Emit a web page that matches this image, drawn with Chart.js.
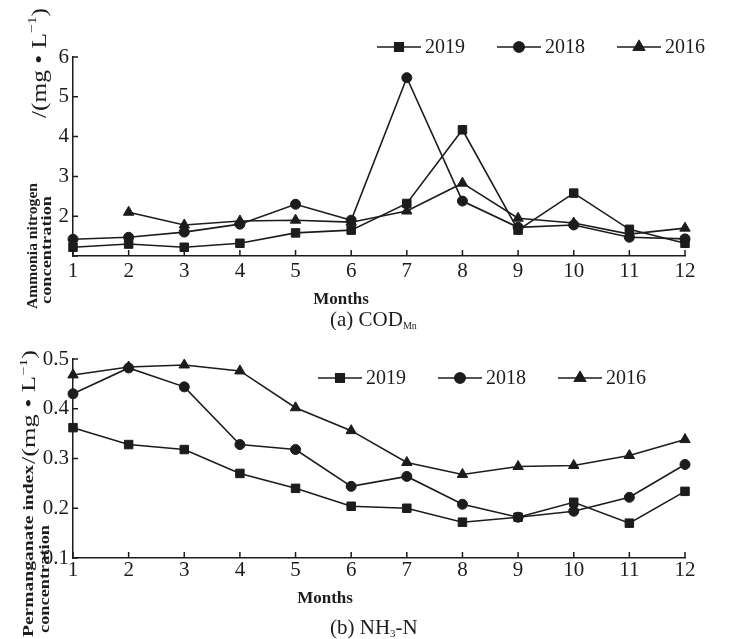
<!DOCTYPE html>
<html>
<head>
<meta charset="utf-8">
<script src="https://cdn.jsdelivr.net/npm/chart.js@4.4.1/dist/chart.umd.min.js"></script>
<style>
  html, body { margin: 0; padding: 0; background: #fff; }
  #wrap { position: relative; width: 735px; height: 639px; overflow: hidden; }
  #chartA { position: absolute; left: 0; top: 0; }
  #chartB { position: absolute; left: 0; top: 330px; }
</style>
</head>
<body>
<div id="wrap">
  <canvas id="chartA" width="735" height="330" style="width:735px;height:330px"></canvas>
  <canvas id="chartB" width="735" height="309" style="width:735px;height:309px"></canvas>
</div>
<script>
// x categories
const months = ['1', '2', '3', '4', '5', '6', '7', '8', '9', '10', '11', '12'];
const years = ['2019', '2018', '2016'];

// (a) COD_Mn panel
const codMn2019 = [1.22, 1.30, 1.22, 1.32, 1.58, 1.65, 2.32, 4.17, 1.65, 2.58, 1.67, 1.32];
const codMn2018 = [1.42, 1.47, 1.60, 1.80, 2.30, 1.90, 5.48, 2.38, 1.72, 1.78, 1.47, 1.43];
const codMn2016 = [null, 2.10, 1.78, 1.88, 1.90, 1.85, 2.13, 2.83, 1.95, 1.83, 1.55, 1.70];
const codMnTicks = [1, 2, 3, 4, 5, 6];

// (b) NH3-N panel
const nh3n2019 = [0.362, 0.328, 0.318, 0.270, 0.240, 0.204, 0.200, 0.172, 0.182, 0.212, 0.170, 0.234];
const nh3n2018 = [0.430, 0.482, 0.444, 0.328, 0.318, 0.244, 0.264, 0.208, 0.182, 0.194, 0.222, 0.288];
const nh3n2016 = [0.468, 0.484, 0.488, 0.476, 0.402, 0.356, 0.292, 0.268, 0.284, 0.286, 0.306, 0.338];
const nh3nTicks = [0.1, 0.2, 0.3, 0.4, 0.5];

const serif = "'Liberation Serif', 'DejaVu Serif', serif";
const ink = '#1c1c1c';
const markers = ['rect', 'circle', 'triangle'];
const markerSize = [6, 5, 6];

// rotated text squeezed/stretched to fit between yStart (bottom) and yEnd (top)
function drawUpText(ctx, parts, cx, yStart, yEnd) {
  ctx.save();
  ctx.translate(cx, yStart);
  ctx.rotate(-Math.PI / 2);
  let total = 0;
  parts.forEach(p => { ctx.font = p.font; p.w = ctx.measureText(p.t).width; total += p.w; });
  ctx.scale((yStart - yEnd) / total, 1);
  ctx.textAlign = 'left';
  ctx.textBaseline = 'middle';
  ctx.fillStyle = ink;
  let x = 0;
  parts.forEach(p => {
    ctx.font = p.font;
    ctx.fillText(p.t, x, p.rise || 0);
    x += p.w;
  });
  ctx.restore();
}

function drawRun(ctx, parts, x, y) {
  ctx.save();
  ctx.textAlign = 'left';
  ctx.textBaseline = 'middle';
  ctx.fillStyle = ink;
  parts.forEach(p => {
    ctx.font = p.font;
    ctx.fillText(p.t, x, y + (p.rise || 0));
    x += ctx.measureText(p.t).width;
  });
  ctx.restore();
}

const decor = {
  id: 'decor',
  afterDraw(chart, args, o) {
    const { ctx, chartArea: area, scales: { x, y } } = chart;
    ctx.save();
    // inward tick marks
    ctx.strokeStyle = ink;
    ctx.lineWidth = 1.5;
    ctx.beginPath();
    y.ticks.forEach(t => {
      const py = y.getPixelForValue(t.value);
      ctx.moveTo(area.left, py);
      ctx.lineTo(area.left + 5, py);
    });
    months.forEach((m, i) => {
      const px = x.getPixelForValue(i);
      ctx.moveTo(px, area.bottom);
      ctx.lineTo(px, area.bottom - 6);
    });
    ctx.stroke();

    // legend: line with marker, then the year
    chart.data.datasets.forEach((ds, i) => {
      const x0 = o.legendX + i * 120;
      ctx.strokeStyle = ink;
      ctx.lineWidth = 1.6;
      ctx.beginPath();
      ctx.moveTo(x0, o.legendY);
      ctx.lineTo(x0 + 44, o.legendY);
      ctx.stroke();
      ctx.fillStyle = ink;
      Chart.helpers.drawPoint(ctx, { pointStyle: ds.pointStyle, radius: ds.pointRadius, rotation: 0, borderWidth: 1 }, x0 + 22, o.legendY);
      ctx.fill();
      ctx.stroke();
      ctx.font = '20px ' + serif;
      ctx.textAlign = 'left';
      ctx.textBaseline = 'middle';
      ctx.fillText(ds.label, x0 + 48, o.legendY + 1);
    });

    // y title
    o.yTitle.forEach(line => drawUpText(ctx, line.parts, line.cx, line.y0, line.y1));

    // x title and caption
    ctx.fillStyle = ink;
    ctx.font = 'bold 17px ' + serif;
    ctx.textAlign = 'center';
    ctx.textBaseline = 'middle';
    ctx.fillText('Months', o.monthsX, o.monthsY);
    drawRun(ctx, o.caption, o.captionX, o.captionY);
    ctx.restore();
  }
};

function unitParts(size) {
  return [
    { t: '/(mg \u2022 L', font: size + 'px ' + serif },
    { t: '\u22121', font: Math.round(size * 0.62) + 'px ' + serif, rise: -size * 0.33 },
    { t: ')', font: size + 'px ' + serif }
  ];
}

function buildChart(el, opt) {
  return new Chart(el, {
    type: 'line',
    data: {
      labels: months,
      datasets: opt.series.map((s, i) => ({
        label: years[i],
        data: s,
        borderColor: ink,
        backgroundColor: ink,
        borderWidth: 1.6,
        pointStyle: markers[i],
        pointRadius: markerSize[i],
        pointBorderWidth: 1,
        tension: 0,
        spanGaps: false
      }))
    },
    options: {
      responsive: false,
      animation: false,
      layout: { padding: { top: opt.top, right: 50, left: 0, bottom: 0 } },
      plugins: {
        legend: { display: false },
        tooltip: { enabled: false },
        decor: opt.decor
      },
      scales: {
        x: {
          type: 'category',
          offset: false,
          grid: { display: false, drawTicks: false },
          border: { color: ink, width: 1.5 },
          ticks: { color: ink, font: { family: serif, size: 21 }, padding: opt.xPad, maxRotation: 0, autoSkip: false },
          afterFit: s => { s.height = opt.xHeight; }
        },
        y: {
          min: opt.ticks[0],
          max: opt.ticks[opt.ticks.length - 1],
          grid: { display: false, drawTicks: false },
          border: { color: ink, width: 1.5 },
          afterBuildTicks: s => { s.ticks = opt.ticks.map(v => ({ value: v })); },
          ticks: { color: ink, font: { family: serif, size: 21 }, padding: 4, callback: opt.fmt },
          afterFit: s => { s.width = 73; }
        }
      }
    },
    plugins: [decor]
  });
}

buildChart(document.getElementById('chartA'), {
  series: [codMn2019, codMn2018, codMn2016],
  ticks: codMnTicks,
  fmt: v => (v === 1 ? '' : String(v)),
  top: 57, xHeight: 74, xPad: 3,
  decor: {
    legendX: 377, legendY: 47,
    monthsX: 341, monthsY: 300,
    captionX: 330, captionY: 320,
    caption: [
      { t: '(a) COD', font: '21px ' + serif },
      { t: 'Mn', font: '10px ' + serif, rise: 6 }
    ],
    yTitle: [
      { parts: [{ t: 'Ammonia nitrogen', font: 'bold 14px ' + serif }], cx: 33, y0: 309, y1: 183 },
      { parts: [{ t: 'concentration', font: 'bold 14px ' + serif }], cx: 47, y0: 304, y1: 196 },
      { parts: unitParts(21), cx: 40, y0: 118, y1: 8 }
    ]
  }
});

buildChart(document.getElementById('chartB'), {
  series: [nh3n2019, nh3n2018, nh3n2016],
  ticks: nh3nTicks,
  fmt: v => v.toFixed(1),
  top: 29, xHeight: 81, xPad: 0,
  decor: {
    legendX: 318, legendY: 48,
    monthsX: 325, monthsY: 269,
    captionX: 330, captionY: 298,
    caption: [
      { t: '(b) NH', font: '21px ' + serif },
      { t: '3', font: '11px ' + serif, rise: 6 },
      { t: '-N', font: '21px ' + serif }
    ],
    yTitle: [
      { parts: [{ t: 'Permanganate index', font: 'bold 15px ' + serif }], cx: 29, y0: 307, y1: 135 },
      { parts: [{ t: 'concentration', font: 'bold 15px ' + serif }], cx: 45, y0: 303, y1: 195 },
      { parts: unitParts(18), cx: 30, y0: 134, y1: 20 }
    ]
  }
});
</script>
</body>
</html>
